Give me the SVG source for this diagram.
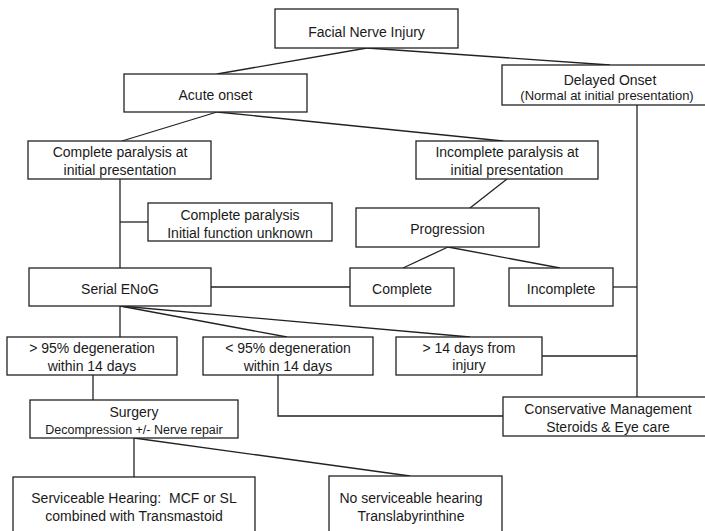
<svg xmlns="http://www.w3.org/2000/svg" width="705" height="531" viewBox="0 0 705 531">
<style>
.box{fill:#fff;stroke:#222;stroke-width:1.3}
.t{font-family:"Liberation Sans",Arial,sans-serif;font-size:14px;fill:#1a1a1a;text-anchor:middle}
.s{font-family:"Liberation Sans",Arial,sans-serif;font-size:12.5px;fill:#1a1a1a;text-anchor:middle}
.c{fill:none;stroke:#222;stroke-width:1.3}
</style>
<rect width="705" height="531" fill="#fff"/>
<g id="connectors">
<path class="c" d="M367,48 L217,74"/>
<path class="c" d="M367,48 L610,65"/>
<path class="c" d="M217,112 L122,141"/>
<path class="c" d="M217,112 L503,141"/>
<path class="c" d="M120,179 L120,268"/>
<path class="c" d="M120,222 L148,222"/>
<path class="c" d="M507,179 L470,208"/>
<path class="c" d="M448,247 L403,268"/>
<path class="c" d="M448,247 L560,268"/>
<path class="c" d="M211,287 L350,287"/>
<path class="c" d="M613,287 L637,287"/>
<path class="c" d="M637,105 L637,397"/>
<path class="c" d="M120,306 L120,337"/>
<path class="c" d="M120,306 L287,337"/>
<path class="c" d="M120,306 L470,337"/>
<path class="c" d="M542,356 L637,356"/>
<path class="c" d="M278,375 L278,416 L503,416"/>
<path class="c" d="M93,375 L93,400"/>
<path class="c" d="M134,438 L134,477"/>
<path class="c" d="M134,438 L410,476"/>
</g>
<g id="n1"><rect class="box" x="275" y="9" width="183" height="39"/><text class="t" x="366.5" y="37">Facial Nerve Injury</text></g>
<g id="n2"><rect class="box" x="124" y="74" width="183" height="38"/><text class="t" x="215.5" y="100">Acute onset</text></g>
<g id="n3"><rect class="box" x="502" y="65" width="210" height="40"/><text class="t" x="610" y="85">Delayed Onset</text><text class="s" x="607" y="100" style="font-size:13px">(Normal at initial presentation)</text></g>
<g id="n4"><rect class="box" x="28" y="141" width="183" height="38"/><text class="t" x="120" y="157">Complete paralysis at</text><text class="t" x="120" y="175">initial presentation</text></g>
<g id="n5"><rect class="box" x="416" y="141" width="182" height="38"/><text class="t" x="507" y="157">Incomplete paralysis at</text><text class="t" x="507" y="175">initial presentation</text></g>
<g id="n6"><rect class="box" x="148" y="203" width="184" height="38"/><text class="t" x="240" y="220">Complete paralysis</text><text class="t" x="240" y="238">Initial function unknown</text></g>
<g id="n7"><rect class="box" x="356" y="208" width="183" height="39"/><text class="t" x="447.5" y="234">Progression</text></g>
<g id="n8"><rect class="box" x="350" y="268" width="104" height="38"/><text class="t" x="402" y="294">Complete</text></g>
<g id="n9"><rect class="box" x="509" y="268" width="104" height="38"/><text class="t" x="561" y="294">Incomplete</text></g>
<g id="n10"><rect class="box" x="29" y="268" width="182" height="38"/><text class="t" x="120" y="294">Serial ENoG</text></g>
<g id="n11"><rect class="box" x="7" y="337" width="170" height="38"/><text class="t" x="92" y="353">&gt; 95% degeneration</text><text class="t" x="92" y="371">within 14 days</text></g>
<g id="n12"><rect class="box" x="203" y="337" width="170" height="38"/><text class="t" x="288" y="353">&lt; 95% degeneration</text><text class="t" x="288" y="371">within 14 days</text></g>
<g id="n13"><rect class="box" x="396" y="337" width="146" height="38"/><text class="t" x="469" y="353">&gt; 14 days from</text><text class="t" x="469" y="370">injury</text></g>
<g id="n14"><rect class="box" x="30" y="400" width="208" height="38"/><text class="t" x="134" y="417">Surgery</text><text class="s" x="134" y="434">Decompression +/- Nerve repair</text></g>
<g id="n15"><rect class="box" x="503" y="397" width="210" height="39"/><text class="t" x="608" y="414">Conservative Management</text><text class="t" x="608" y="432">Steroids &amp; Eye care</text></g>
<g id="n16"><rect class="box" x="13" y="477" width="242" height="70"/><text class="t" x="134" y="503" xml:space="preserve">Serviceable Hearing:  MCF or SL</text><text class="t" x="134" y="521">combined with Transmastoid</text></g>
<g id="n17"><rect class="box" x="329" y="476" width="173" height="70"/><text class="t" x="411" y="503">No serviceable hearing</text><text class="t" x="411" y="521">Translabyrinthine</text></g>
</svg>
